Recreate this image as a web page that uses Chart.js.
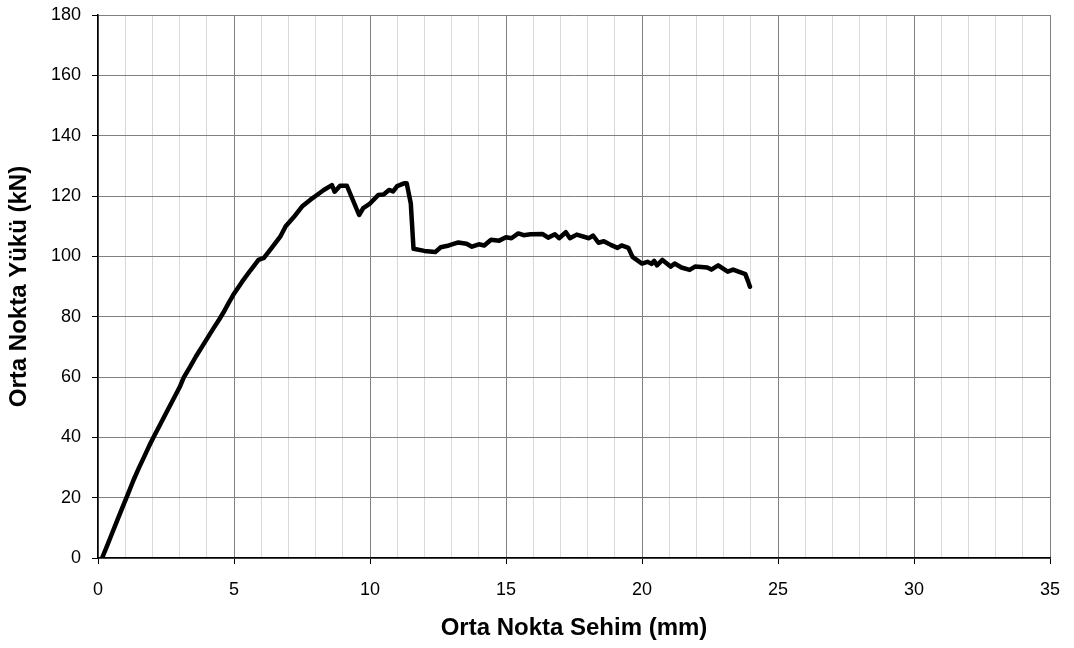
<!DOCTYPE html>
<html>
<head>
<meta charset="utf-8">
<script src="https://cdn.jsdelivr.net/npm/chart.js@4"></script>
<style>
  html, body { margin: 0; padding: 0; background: #fff; }
  #wrap { width: 1074px; height: 648px; }
</style>
</head>
<body>
<div id="wrap"><canvas id="chart" width="1074" height="648"></canvas></div>
<script>
// Orta nokta sehim (mm) / yük (kN) ölçümleri
const sehim = [
  0.15, 0.3, 0.5, 0.7, 0.9, 1.1, 1.3, 1.5, 1.7, 1.9,
  2.05, 2.3, 2.5, 2.75, 3.0, 3.15, 3.4, 3.6, 3.85, 4.05,
  4.25, 4.45, 4.6, 4.8, 5.0, 5.3, 5.6, 5.9, 6.1, 6.4,
  6.7, 6.9, 7.2, 7.5, 7.8, 8.0, 8.3, 8.6, 8.7, 8.9,
  9.15, 9.6, 9.75, 10.0, 10.3, 10.5, 10.7, 10.85, 11.0, 11.25,
  11.35, 11.5, 11.6, 12.0, 12.4, 12.6, 12.9, 13.25, 13.55, 13.75,
  14.0, 14.2, 14.45, 14.75, 15.0, 15.2, 15.45, 15.65, 15.9, 16.35,
  16.55, 16.8, 16.95, 17.2, 17.35, 17.6, 18.05, 18.2, 18.4, 18.6,
  18.85, 19.1, 19.25, 19.5, 19.65, 20.0, 20.2, 20.35, 20.45, 20.55,
  20.75, 21.05, 21.2, 21.45, 21.75, 21.95, 22.4, 22.55, 22.8, 23.15,
  23.35, 23.8, 23.9, 23.97
];
const yuk = [
  0, 3.3, 7.8, 12.3, 16.8, 21.2, 25.7, 29.8, 33.6, 37.5,
  40.2, 44.5, 48, 52.3, 56.6, 59.8, 63.6, 66.8, 70.4, 73.3,
  76.2, 79, 81.2, 84.5, 87.6, 91.6, 95.3, 98.8, 99.5, 103,
  106.5, 110, 113, 116.5, 118.7, 120, 122, 123.6, 121.4, 123.4,
  123.4, 113.7, 116, 117.5, 120.3, 120.5, 122, 121.5, 123.3, 124.2,
  124.2, 117.5, 102.5, 101.8, 101.4, 103, 103.6, 104.6, 104.2, 103.2,
  104, 103.6, 105.5, 105.2, 106.3, 106, 107.6, 107, 107.3, 107.4,
  106.2, 107.3, 106, 108, 106, 107.2, 106, 106.9, 104.5, 105,
  103.8, 102.8, 103.6, 102.8, 99.8, 97.6, 98.2, 97.5, 98.5, 97,
  98.8, 96.6, 97.6, 96.3, 95.5, 96.6, 96.3, 95.6, 97, 94.9,
  95.6, 94.1, 91.7, 89.9
];

// eksen sınırları ve etiket adımları
const xMin = 0, xMax = 35, xMajor = 5;
const yMin = 0, yMax = 180, yStep = 20;

const points = sehim.map((x, i) => ({ x: x, y: yuk[i] }));
const isMajor = v => Math.abs(v % xMajor) < 1e-6;

const tickFont = { family: 'Arial, "Liberation Sans", sans-serif', size: 18 };
const titleFont = { family: 'Arial, "Liberation Sans", sans-serif', size: 24, weight: 'bold' };

new Chart(document.getElementById('chart'), {
  type: 'scatter',
  data: {
    datasets: [{
      data: points,
      showLine: true,
      borderColor: '#000',
      borderWidth: 4.5,
      pointRadius: 0,
      tension: 0,
      borderJoinStyle: 'round',
      borderCapStyle: 'round'
    }]
  },
  options: {
    responsive: false,
    animation: false,
    layout: { padding: { top: 15, right: 24, bottom: 0, left: 0 } },
    plugins: { legend: { display: false }, tooltip: { enabled: false } },
    scales: {
      x: {
        type: 'linear',
        min: xMin,
        max: xMax,
        // fixed axis band; labels may overhang the padding
        afterFit: s => { s.height = 90; s.paddingLeft = 0; s.paddingRight = 0; },
        ticks: {
          stepSize: 1,
          autoSkip: false,
          maxRotation: 0,
          padding: 15,
          color: '#000',
          font: tickFont,
          callback: v => isMajor(v) ? String(v) : ''
        },
        grid: {
          color: c => isMajor(c.tick.value) ? '#808080' : '#d9d9d9',
          lineWidth: 1,
          tickLength: 6,
          tickColor: c => isMajor(c.tick.value) ? '#000' : 'rgba(0,0,0,0)'
        },
        border: { color: '#000', width: 1.5 },
        title: {
          display: true,
          text: 'Orta Nokta Sehim (mm)',
          color: '#000',
          font: titleFont,
          padding: { top: 0, bottom: 5 }
        }
      },
      y: {
        min: yMin,
        max: yMax,
        afterFit: s => { s.width = 98; s.paddingTop = 0; s.paddingBottom = 0; },
        ticks: {
          stepSize: yStep,
          padding: 11,
          color: '#000',
          font: tickFont
        },
        grid: {
          color: '#808080',
          lineWidth: 1,
          tickLength: 6,
          tickColor: '#000'
        },
        border: { color: '#000', width: 1.5 },
        title: {
          display: true,
          text: 'Orta Nokta Yükü (kN)',
          color: '#000',
          font: titleFont,
          padding: { top: 5, bottom: 0 }
        }
      }
    }
  }
});
</script>
</body>
</html>
